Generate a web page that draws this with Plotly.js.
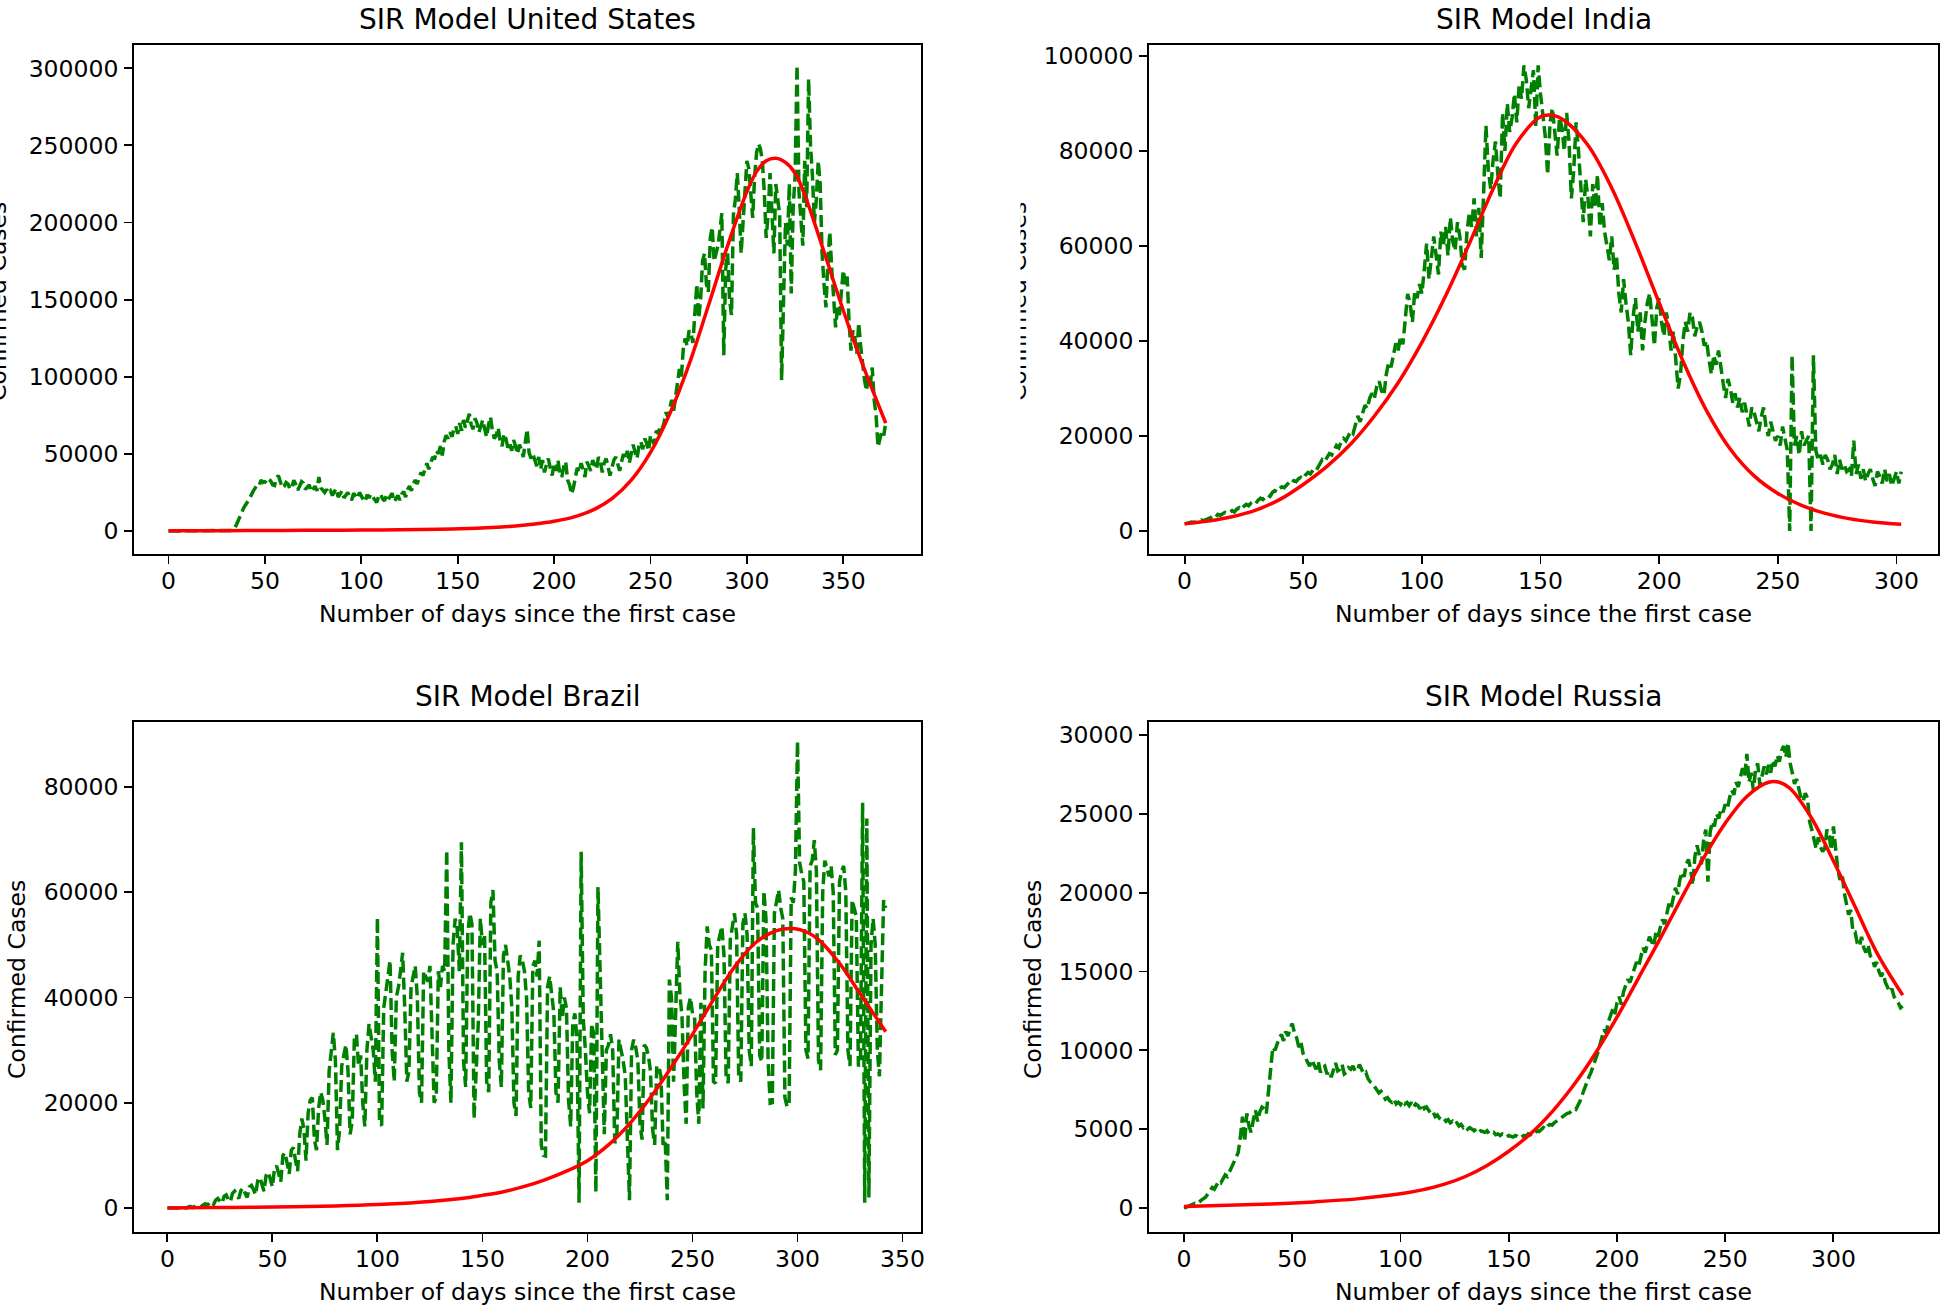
<!DOCTYPE html>
<html><head><meta charset="utf-8">
<script src="https://cdn.plot.ly/plotly-3.0.1.min.js"></script>
<style>html,body{margin:0;padding:0;background:#fff}#chart{width:1945px;height:1311px}</style>
</head><body><div id="chart"></div>
<script>
// ---------- DATA ----------
const xAxisTitle = "Number of days since the first case";
const yAxisTitle = "Confirmed Cases";
const panelTitles = ["SIR Model United States", "SIR Model India", "SIR Model Brazil", "SIR Model Russia"];

// United States: daily confirmed cases, day 0..372
const usCases = [
0,0,0,0,0,0,0,0,0,0, 0,0,0,0,0,0,0,0,0,0, 0,0,0,0,0,0,0,0,0,0,
100,200,400,700,1200,3500,6000,9000,12000,15000,
17500,19000,21000,24000,26000,28000,30000,29500,33000,31500,
32000,31000,33500,32500,30000,29500,34000,36000,31000,28000,
29000,31500,30500,27000,28500,33000,30000,26500,29000,32000,
31000,27000,28500,30000,25500,27500,29000,26000,35000,28000,
26500,25000,27000,24500,26000,23000,25500,27500,22000,24000,
26000,21500,23500,25000,22000,20000,24500,23000,21000,25000,
22500,20500,19000,23500,21500,24000,22000,20000,18500,22500,
24000,21000,19500,23000,20500,22500,24500,19000,21000,23000,
20000,24000,25500,22000,27000,29000,26000,31000,33000,30500,
35000,38000,36000,41000,44000,40000,45000,48000,46500,52000,
50000,55000,49000,58000,62000,60000,64000,61000,66000,68000,
63000,70000,65000,72000,67000,71000,76000,69000,66000,73000,
70000,64000,68000,72000,66000,61000,69000,74000,65000,60000,
62000,67000,58000,55000,63000,60000,54000,57000,52000,59000,
55000,50000,56000,53000,48000,58000,66000,51000,47000,50000,
45000,42000,48000,40000,46000,38000,43000,47000,41000,36000,
44000,39000,46000,37000,35000,42000,45000,33000,30000,24000,
28000,36000,41000,38000,44000,40000,35000,45000,42000,39000,
46000,43000,40000,48000,45000,38000,44000,47000,42000,36000,
41000,46000,48000,43000,39000,45000,50000,47000,52000,44000,
49000,56000,51000,47000,55000,58000,53000,60000,57000,52000,
62000,59000,56000,65000,63000,68000,66000,70000,77000,74000,
80000,85000,78000,88000,95000,105000,100000,118000,125000,120000,
130000,128000,122000,145000,160000,138000,150000,175000,180000,160000,
155000,190000,197000,175000,180000,185000,195000,206000,114000,170000,
180000,150000,140000,205000,215000,232000,210000,180000,200000,225000,
240000,235000,215000,203000,230000,245000,251000,248000,240000,220000,
190000,205000,232000,210000,180000,225000,215000,205000,97800,160000,
200000,185000,225000,154000,210000,230000,302000,220000,200000,185000,
240000,210000,293000,250000,230000,200000,215000,240000,225000,180000,
160000,145000,175000,194000,170000,150000,132000,145000,140000,155000,
169000,160000,165000,135000,117000,130000,125000,115000,135000,120000,
106000,98000,91000,100000,95000,106000,85000,75000,54500,60000,
65000,62000,70000];
const usFitDays   = [0,20,40,60,80,100,120,140,160,170,180,190,200,210,220,230,240,250,260,270,280,290,300,305,310,315,320,325,330,340,350,360,372];
const usFitValues = [100,200,300,400,500,600,800,1100,1800,2400,3200,4500,6300,9000,13500,21000,33000,51000,76000,108000,146000,185000,220000,233000,240000,241700,239000,232000,218000,181000,143000,108000,70000];

// India: daily confirmed cases, day 0..302
const inCases = [
1500,1600,1700,1900,1800,2000,2100,2300,2200,2500,
2600,2800,3200,2900,3500,3300,3600,3900,3700,4100,
4300,4000,4600,4900,4500,5200,5600,5300,5900,6200,
5800,6500,6900,6600,7200,7600,7300,8100,8500,8200,
8900,9300,9100,9800,10200,9900,10600,10400,11000,11300,
11000,11800,12300,12000,12800,13500,13200,14200,15000,14600,
15500,16300,16000,17200,18000,17500,18800,19500,19000,20000,
21000,20500,22500,24200,23000,25000,26500,25800,28000,29000,
28000,30500,31500,29500,28600,33000,35500,34500,37000,39500,
38000,41000,39300,44000,49900,48000,44000,50500,49000,52000,
50000,55000,60500,53000,57000,62000,58000,54000,63000,60000,
64000,58000,66000,61000,59000,65000,62000,56000,55000,63000,
67000,64000,70000,62000,68000,57500,71000,85300,76000,72000,
78000,82000,75000,70000,88000,80000,90000,84000,87000,92000,
86000,94000,91000,98000,95000,89000,93000,97000,85000,98000,
92000,88000,83000,75000,86000,89000,84000,79000,87000,85000,
80000,88000,82000,70000,76000,86000,80000,72000,65000,74000,
70000,62000,73000,68000,75000,64000,69000,63000,60000,57000,
62000,55000,58000,50000,46000,53000,48000,44000,37000,45000,
49000,42000,46000,38000,44000,48000,50000,45000,39000,47000,
49000,44000,41000,46000,43000,38000,42000,36000,30000,33000,
40000,44000,42000,46000,45000,41000,43000,44000,42000,39000,
40000,36000,33000,37000,35000,38000,34000,31000,28000,32000,
30000,27000,29000,26000,28000,25000,27000,24000,22000,26000,
25000,23000,21000,24000,26000,22000,20000,23000,21000,19000,
20000,18000,22000,19000,17000,0,37000,18000,20000,16000,
21000,18000,19000,20000,0,37000,17000,15000,16000,14000,
16000,15000,13000,14000,16000,12000,15000,13000,14000,12500,
13000,11500,19000,12000,14000,11000,13000,10500,12000,13000,
11000,9500,12500,11500,10000,13000,10500,12000,9500,11000,
12500,10000,12500];
const inFitDays   = [0,10,20,30,40,50,60,70,80,90,100,110,120,130,140,150,155,160,170,180,190,200,210,220,230,240,250,260,270,280,290,302];
const inFitValues = [1500,2100,3000,4400,6600,9800,13600,18300,24200,31200,39700,49500,60500,72000,81800,87200,87500,86400,81200,72200,60600,48000,35800,25300,17200,11600,7900,5400,3700,2600,1900,1400];

// Brazil: daily confirmed cases, day 0..342
const brCases = [
0,0,0,0,0,0,0,0,0,0, 200,300,100,400,500,300,200,600,800,500,
1000,1200,700,1500,1800,1300,900,2200,2500,1600,
1200,2800,3200,2500,1800,3300,3800,2800,2000,4000,
4300,3500,2500,5200,5800,4500,3200,6200,6800,5500,
4000,7500,8000,6500,5000,10000,10500,8500,6500,11000,
11500,9000,7000,14000,17000,15000,9000,18000,20500,21000,
13000,11000,19000,22000,20500,17000,12000,26000,30000,33300,
28000,11000,15000,27000,29000,31000,26000,14000,16500,32000,
33000,27000,29000,20000,15500,30000,35000,32000,30000,24000,
55200,16000,15700,38000,41000,44000,47000,30000,24000,40000,
42000,45000,48500,38000,24000,26000,42000,44000,46000,40000,
22000,20000,45000,44000,43000,46000,30000,20000,21000,45000,
42000,46000,45000,68000,30000,20000,50000,55000,53000,45000,
69500,28000,23000,52000,56000,54000,17000,25000,35000,55000,
50000,52000,24000,22000,58000,60400,47000,45000,28000,23000,
48000,50000,47000,44000,38000,20000,17500,44000,48000,47000,
45000,40000,22000,19000,46000,47000,44000,50800,12000,10000,
9900,42000,44000,40000,37000,22000,20000,42000,36000,40000,
38000,20500,15500,35000,37000,32000,1000,67700,36000,30000,
22000,18000,35000,33000,3000,61000,44000,33000,14000,30000,
31000,33000,30000,12300,14000,32000,30000,28000,25000,13000,
1500,30000,32000,30500,28000,16000,13000,31000,30500,29000,
26000,15000,12000,27000,26900,25000,12000,13000,1500,43400,
40000,24000,38000,50600,40800,36400,23700,16000,38000,40000,
37000,36400,22000,16000,39000,18900,45000,53500,50000,49000,
24000,23700,50000,52000,53500,48000,25000,23700,51000,53500,
56000,52000,25000,24000,54000,56000,52000,30000,27000,72200,
58000,57000,29000,27800,60200,55000,28000,19900,20000,56000,
58000,60400,57000,55000,21000,19300,19500,59000,58000,64000,
88700,65700,63500,62000,30000,28400,65000,66000,69900,64000,
28000,26200,60000,66000,64700,63000,65000,60000,29100,30000,
62000,64000,65000,60000,30000,27000,58500,57000,55400,26900,
28000,77000,1000,74000,2000,50000,55000,50000,30000,25000,
45000,58500,57000];
const brFitDays   = [0,20,40,60,80,100,120,140,150,160,170,180,190,200,210,220,230,240,250,260,270,280,290,298,305,310,320,330,342];
const brFitValues = [0,80,130,220,380,650,1100,1800,2400,3100,4100,5400,7000,9000,12000,16000,21000,26800,33000,39600,45800,50400,52700,53100,52300,51000,46500,40600,33500];

// Russia: daily confirmed cases, day 0..332
const ruCases = [
0,50,100,150,200,300,250,400,500,600,
700,900,1100,1300,1200,1500,1700,1600,1900,2100,
2000,2300,2500,2800,3200,3500,4500,5800,4200,6000,
5200,4800,5600,6200,5500,6100,6400,6300,6000,7500,
9000,10200,10000,10500,10800,11000,10600,11200,10900,11400,
11700,11100,10800,10200,10500,9800,9500,9200,9000,9400,
9100,8800,9300,8600,8900,9000,8500,8700,8300,8800,
9200,8700,8800,9100,8500,8600,8900,8800,9000,8700,
8700,9100,8800,8500,8600,8200,8000,7900,7700,7500,
7300,7400,7100,6900,7000,6800,6700,6900,6600,6700,
6560,6800,6600,6700,6500,6700,6400,6600,6500,6300,
6600,6300,6400,6200,6000,6100,5800,5900,5700,5600,
5700,5500,5600,5400,5500,5300,5400,5200,5300,5100,
5200,5000,5100,5000,4900,5000,4800,4900,4850,4800,
4900,4700,4750,4800,4650,4700,4600,4700,4650,4500,
4600,4550,4500,4600,4550,4430,4500,4600,4550,4700,
4650,4800,4750,4900,4850,5000,5100,5000,5200,5300,
5250,5400,5500,5600,5700,5800,5900,6000,6030,6200,
6300,6250,6500,6800,7200,7600,8000,8300,8600,9000,
9300,9800,10300,10800,11300,11100,11800,12200,12600,12300,
13000,13400,12900,13700,14100,14500,14300,14800,15200,15600,
15300,15900,16500,16200,16800,17200,16900,16600,17500,17200,
17800,18300,18000,18800,19300,19000,19800,20300,19900,20800,
21300,21000,21800,22100,21500,20500,22300,23000,22400,21800,
23300,24000,20700,23800,24500,24200,25000,24700,25300,25100,
25600,25300,26000,26500,26200,27000,26700,27300,27900,27400,
28800,27000,27600,26500,27800,28200,26800,27400,28000,27500,
28100,27600,28400,28000,28700,28300,29000,29300,28600,29500,
28200,27600,26900,27200,26500,26000,25800,26300,26000,24500,
24000,23300,22800,23500,22900,22600,22800,24000,23600,22700,
24200,22800,21500,20800,21200,20000,19400,18600,18900,17500,
17500,16800,16600,17200,16500,16200,16700,16000,15800,15300,
15600,15000,14700,14900,14300,14000,13700,13900,13400,13200,
13000,12700,12800];
const ruFitDays   = [0,20,40,60,80,100,110,120,130,140,150,160,170,180,190,200,210,220,230,240,250,260,270,275,280,290,300,310,320,332];
const ruFitValues = [100,170,260,390,580,900,1150,1500,2000,2700,3600,4700,6100,7800,9800,12100,14600,17100,19700,22200,24400,26100,27000,27000,26600,24700,22000,19100,16200,13500];

// ---------- CHART ----------
const W = 1945, H = 1311;
const FONT = "DejaVu Sans";
const GREEN = "#008000", RED = "#ff0000";
const dayIndex = arr => arr.map((_, i) => i);

function greenTrace(vals, xa, ya) {
  return {x: dayIndex(vals), y: vals, xaxis: xa, yaxis: ya, type: "scatter", mode: "lines",
          line: {color: GREEN, width: 3.5, dash: "12px,5px"}, hoverinfo: "skip"};
}
function redTrace(d, v, xa, ya) {
  return {x: d, y: v, xaxis: xa, yaxis: ya, type: "scatter", mode: "lines",
          line: {color: RED, width: 3.5, shape: "spline", smoothing: 1}, hoverinfo: "skip"};
}
const data = [
  greenTrace(usCases, "x", "y"),  redTrace(usFitDays, usFitValues, "x", "y"),
  greenTrace(inCases, "x2", "y2"), redTrace(inFitDays, inFitValues, "x2", "y2"),
  greenTrace(brCases, "x3", "y3"), redTrace(brFitDays, brFitValues, "x3", "y3"),
  greenTrace(ruCases, "x4", "y4"), redTrace(ruFitDays, ruFitValues, "x4", "y4")
];

const px = v => v / W, py = v => 1 - v / H;
const colL = [px(134), px(921)], colR = [px(1149), px(1938)];
const rowT = [py(554), py(45)], rowB = [py(1232), py(722)];

function axisBase(extra, isX) {
  return Object.assign({
    showline: true, mirror: true, linecolor: "#000", linewidth: 1.9,
    ticks: "outside", ticklen: 8, tickwidth: 1.9, tickcolor: "#000",
    showgrid: false, zeroline: false, fixedrange: true, tickformat: "d",
    tickfont: {family: FONT, size: 23.5, color: "#000"}, ticklabelstandoff: isX ? -3 : 1
  }, extra);
}

const layout = {
  width: W, height: H, autosize: false,
  margin: {l: 0, r: 0, t: 0, b: 0, pad: 0},
  paper_bgcolor: "#fff", plot_bgcolor: "#fff", showlegend: false,
  font: {family: FONT, color: "#000"},
  xaxis:  axisBase({domain: colL, anchor: "y",  range: [-17.9, 390.3], tick0: 0, dtick: 50}, true),
  yaxis:  axisBase({domain: rowT, anchor: "x",  range: [-14900, 315100], tick0: 0, dtick: 50000}),
  xaxis2: axisBase({domain: colR, anchor: "y2", range: [-15, 317.5], tick0: 0, dtick: 50}, true),
  yaxis2: axisBase({domain: rowT, anchor: "x2", range: [-4840, 102300], tick0: 0, dtick: 20000}),
  xaxis3: axisBase({domain: colL, anchor: "y3", range: [-15.9, 358.8], tick0: 0, dtick: 50}, true),
  yaxis3: axisBase({domain: rowB, anchor: "x3", range: [-4560, 92350], tick0: 0, dtick: 20000}),
  xaxis4: axisBase({domain: colR, anchor: "y4", range: [-16.2, 348.3], tick0: 0, dtick: 50}, true),
  yaxis4: axisBase({domain: rowB, anchor: "x4", range: [-1520, 30820], tick0: 0, dtick: 5000}),
  annotations: []
};

function note(text, x, y, size, angle) {
  return {text: text, xref: "paper", yref: "paper", x: px(x), y: py(y), xanchor: "center", yanchor: "middle",
          showarrow: false, textangle: angle || 0, font: {family: FONT, size: size, color: "#000"}};
}
const A = layout.annotations;
A.push(note(panelTitles[0], 527.5, 20, 28));
A.push(note(panelTitles[1], 1543.5, 20, 28));
A.push(note(panelTitles[2], 527.5, 697, 28));
A.push(note(panelTitles[3], 1543.5, 697, 28));
A.push(note(xAxisTitle, 527.5, 614, 23.5));
A.push(note(xAxisTitle, 1543.5, 614, 23.5));
A.push(note(xAxisTitle, 527.5, 1292, 23.5));
A.push(note(xAxisTitle, 1543.5, 1292, 23.5));
A.push(note(yAxisTitle, -2, 302, 23.5, -90));
A.push(note(yAxisTitle, 1018, 302, 23.5, -90));
A.push(note(yAxisTitle, 17, 980, 23.5, -90));
A.push(note(yAxisTitle, 1033, 980, 23.5, -90));
// white patch hiding most of the India y label (it is clipped in the reference)
A.push({text: " ", xref: "paper", yref: "paper", x: px(1021), y: py(302), xanchor: "right", yanchor: "middle",
        showarrow: false, width: 40, height: 300, bgcolor: "#fff", borderpad: 0, font: {size: 10}});

Plotly.newPlot("chart", data, layout, {staticPlot: true, displayModeBar: false});
</script></body></html>
